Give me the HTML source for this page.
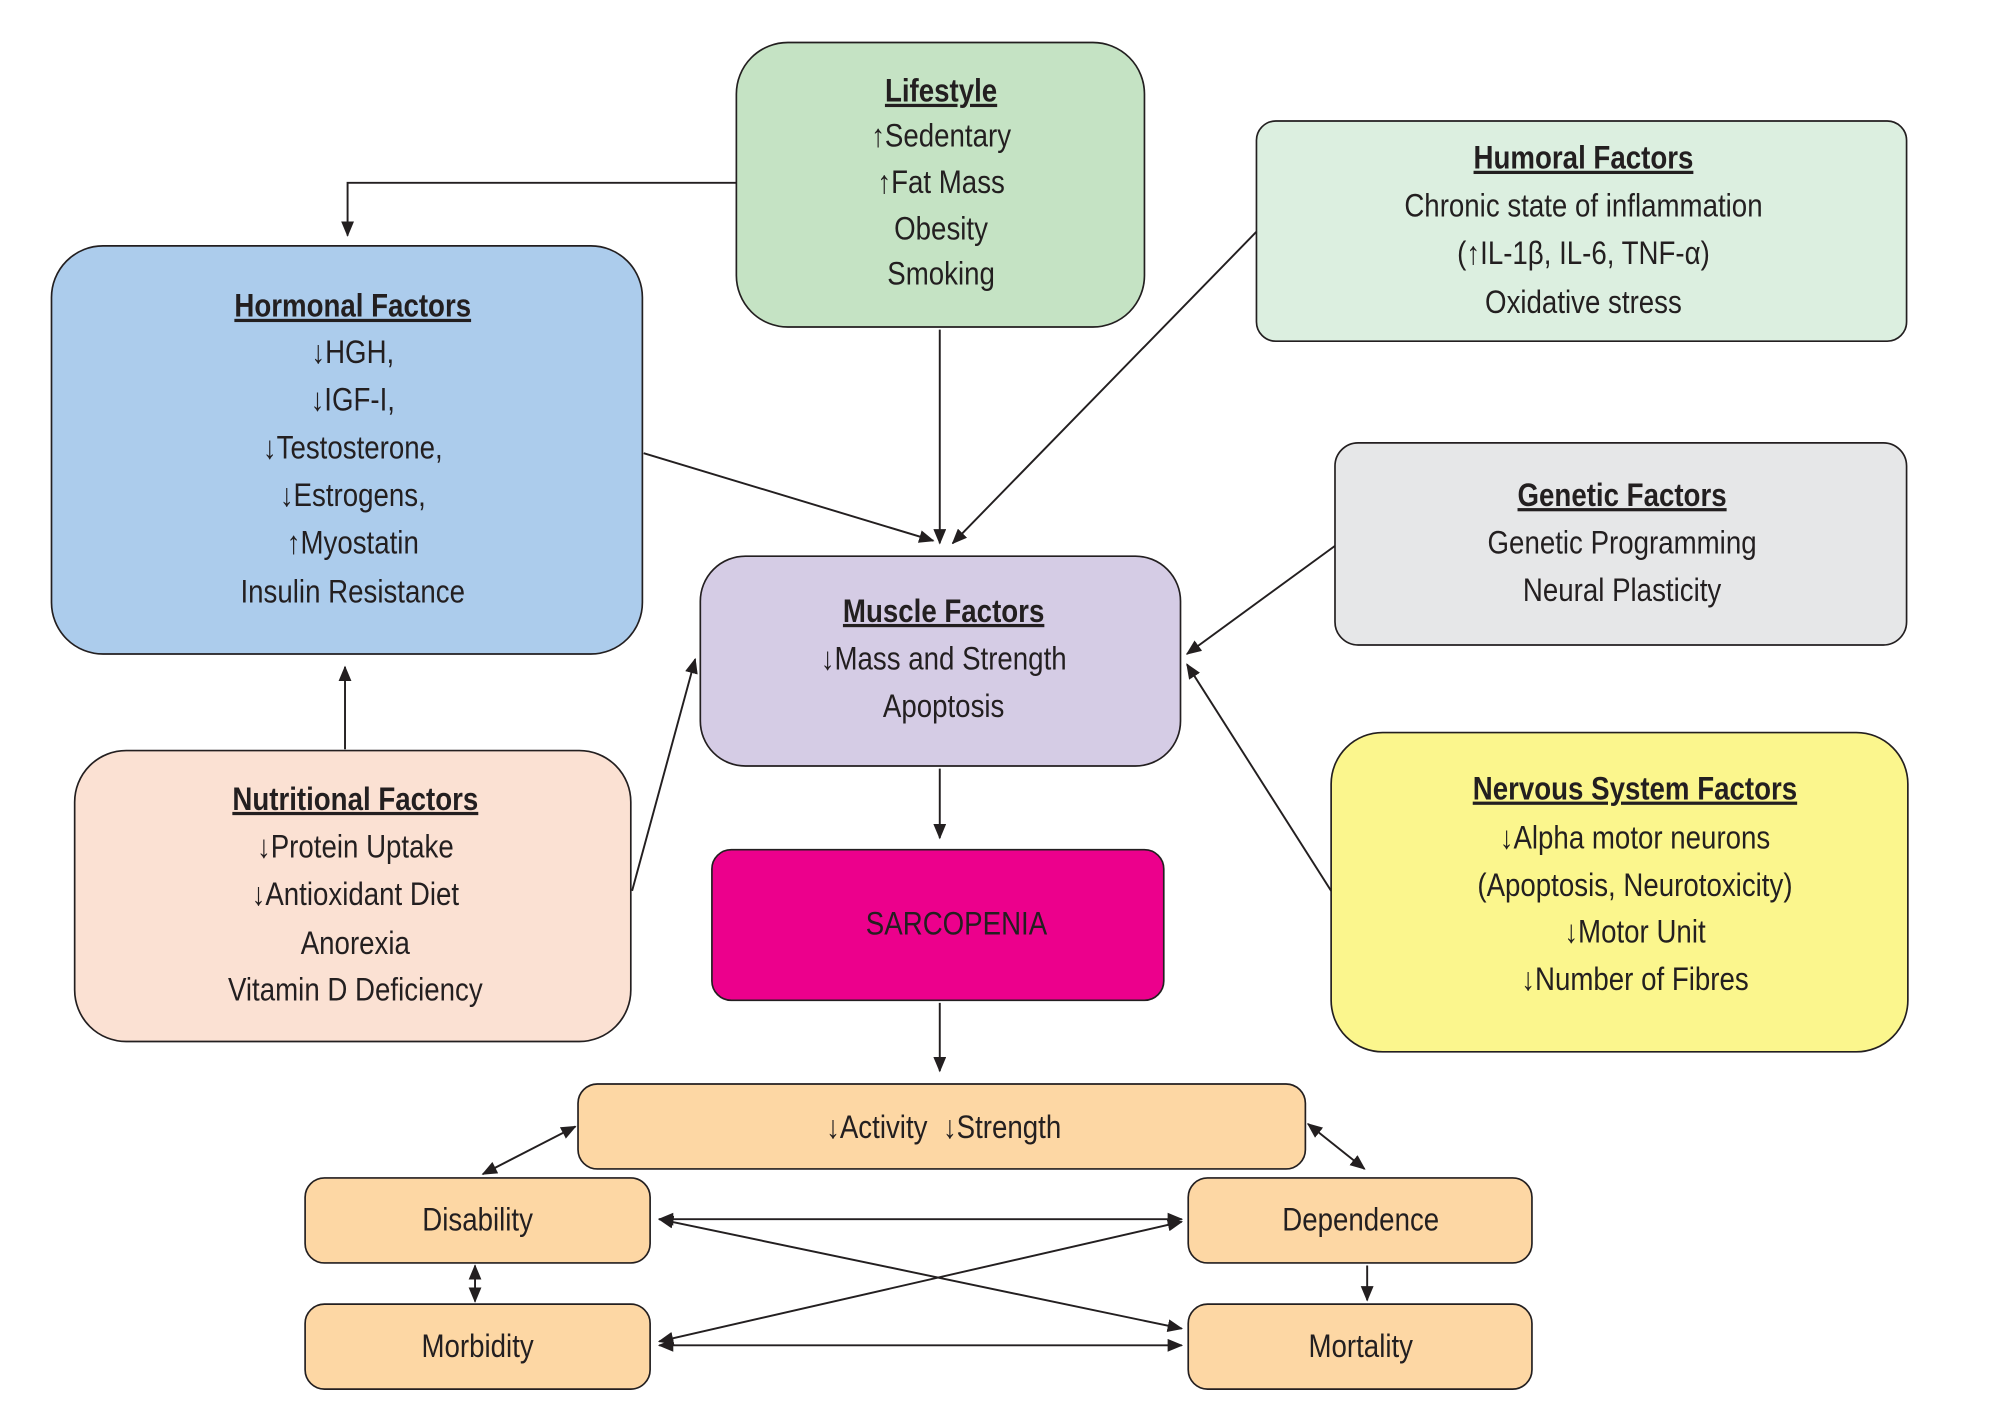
<!DOCTYPE html>
<html><head><meta charset="utf-8"><style>
html,body{margin:0;padding:0;background:#fff}
svg{display:block}
text{font-family:"Liberation Sans",sans-serif;font-size:25px;fill:#231f20;text-anchor:middle}
.t{font-weight:bold;text-decoration:underline}
rect{stroke:#231f20;stroke-width:1.3}
line,path.c{stroke:#231f20;stroke-width:1.5;fill:none}
</style></head><body>
<svg width="2016" height="1420" viewBox="0 0 1566 1103" preserveAspectRatio="none" xmlns="http://www.w3.org/2000/svg">
<defs><marker id="a" markerWidth="12" markerHeight="10" refX="11" refY="5" orient="auto-start-reverse" markerUnits="userSpaceOnUse"><path d="M0,0 L12,5 L0,10 z" fill="#231f20"/></marker></defs>

<rect x="572" y="33" width="317" height="221" rx="40" fill="#c5e3c4"/>
<g transform="translate(731 0) scale(0.86 1)">
<text x="0" y="79" class="t">Lifestyle</text>
<text x="0" y="114">↑Sedentary</text>
<text x="0" y="150">↑Fat Mass</text>
<text x="0" y="186">Obesity</text>
<text x="0" y="221">Smoking</text></g>

<rect x="976" y="94" width="505" height="171" rx="15" fill="#dcefe0"/>
<g transform="translate(1230 0) scale(0.86 1)">
<text x="0" y="131" class="t">Humoral Factors</text>
<text x="0" y="168">Chronic state of inflammation</text>
<text x="0" y="205">(↑IL-1β, IL-6, TNF-α)</text>
<text x="0" y="243">Oxidative stress</text></g>

<rect x="40" y="191" width="459" height="317" rx="40" fill="#acccec"/>
<g transform="translate(274 0) scale(0.86 1)">
<text x="0" y="246" class="t">Hormonal Factors</text>
<text x="0" y="282">↓HGH,</text>
<text x="0" y="319">↓IGF-I,</text>
<text x="0" y="356">↓Testosterone,</text>
<text x="0" y="393">↓Estrogens,</text>
<text x="0" y="430">↑Myostatin</text>
<text x="0" y="468">Insulin Resistance</text></g>

<rect x="1037" y="344" width="444" height="157" rx="18" fill="#e6e7e8"/>
<g transform="translate(1260 0) scale(0.86 1)">
<text x="0" y="393" class="t">Genetic Factors</text>
<text x="0" y="430">Genetic Programming</text>
<text x="0" y="467">Neural Plasticity</text></g>

<rect x="544" y="432" width="373" height="163" rx="35" fill="#d5cce5"/>
<g transform="translate(733 0) scale(0.86 1)">
<text x="0" y="483" class="t">Muscle Factors</text>
<text x="0" y="520">↓Mass and Strength</text>
<text x="0" y="557">Apoptosis</text></g>

<rect x="58" y="583" width="432" height="226" rx="40" fill="#fbe1d3"/>
<g transform="translate(276 0) scale(0.86 1)">
<text x="0" y="629" class="t">Nutritional Factors</text>
<text x="0" y="666">↓Protein Uptake</text>
<text x="0" y="703">↓Antioxidant Diet</text>
<text x="0" y="741">Anorexia</text>
<text x="0" y="777">Vitamin D Deficiency</text></g>

<rect x="1034" y="569" width="448" height="248" rx="40" fill="#fbf68d"/>
<g transform="translate(1270 0) scale(0.86 1)">
<text x="0" y="621" class="t">Nervous System Factors</text>
<text x="0" y="659">↓Alpha motor neurons</text>
<text x="0" y="696">(Apoptosis, Neurotoxicity)</text>
<text x="0" y="732">↓Motor Unit</text>
<text x="0" y="769">↓Number of Fibres</text></g>

<rect x="553" y="660" width="351" height="117" rx="15" fill="#ec008c"/>
<g transform="translate(743 0) scale(0.86 1)"><text x="0" y="726">SARCOPENIA</text></g>

<rect x="449" y="842" width="565" height="66" rx="15" fill="#fdd7a4"/>
<g transform="translate(733 0) scale(0.86 1)"><text x="0" y="884" xml:space="preserve">↓Activity  ↓Strength</text></g>
<rect x="237" y="915" width="268" height="66" rx="15" fill="#fdd7a4"/>
<g transform="translate(371 0) scale(0.86 1)"><text x="0" y="956">Disability</text></g>
<rect x="923" y="915" width="267" height="66" rx="15" fill="#fdd7a4"/>
<g transform="translate(1057 0) scale(0.86 1)"><text x="0" y="956">Dependence</text></g>
<rect x="237" y="1013" width="268" height="66" rx="15" fill="#fdd7a4"/>
<g transform="translate(371 0) scale(0.86 1)"><text x="0" y="1054">Morbidity</text></g>
<rect x="923" y="1013" width="267" height="66" rx="15" fill="#fdd7a4"/>
<g transform="translate(1057 0) scale(0.86 1)"><text x="0" y="1054">Mortality</text></g>

<path class="c" d="M572,142 L270,142 L270,183" marker-end="url(#a)"/>
<line x1="730" y1="256" x2="730" y2="422" marker-end="url(#a)"/>
<line x1="976" y1="180" x2="740" y2="422" marker-end="url(#a)"/>
<line x1="500" y1="352" x2="725" y2="420" marker-end="url(#a)"/>
<line x1="1037" y1="424" x2="922" y2="508" marker-end="url(#a)"/>
<line x1="1034" y1="692" x2="922" y2="516" marker-end="url(#a)"/>
<line x1="491" y1="692" x2="540" y2="512" marker-end="url(#a)"/>
<line x1="268" y1="582" x2="268" y2="518" marker-end="url(#a)"/>
<line x1="730" y1="597" x2="730" y2="651" marker-end="url(#a)"/>
<line x1="730" y1="779" x2="730" y2="832" marker-end="url(#a)"/>
<line x1="447" y1="875" x2="375" y2="912" marker-start="url(#a)" marker-end="url(#a)"/>
<line x1="1016" y1="873" x2="1060" y2="908" marker-start="url(#a)" marker-end="url(#a)"/>
<line x1="369" y1="983" x2="369" y2="1011" marker-start="url(#a)" marker-end="url(#a)"/>
<line x1="1062" y1="983" x2="1062" y2="1010" marker-end="url(#a)"/>
<line x1="512" y1="947" x2="918" y2="947" marker-start="url(#a)" marker-end="url(#a)"/>
<line x1="512" y1="1045" x2="918" y2="1045" marker-start="url(#a)" marker-end="url(#a)"/>
<line x1="512" y1="947" x2="918" y2="1032" marker-start="url(#a)" marker-end="url(#a)"/>
<line x1="512" y1="1042" x2="918" y2="949" marker-start="url(#a)" marker-end="url(#a)"/>
</svg>
</body></html>
